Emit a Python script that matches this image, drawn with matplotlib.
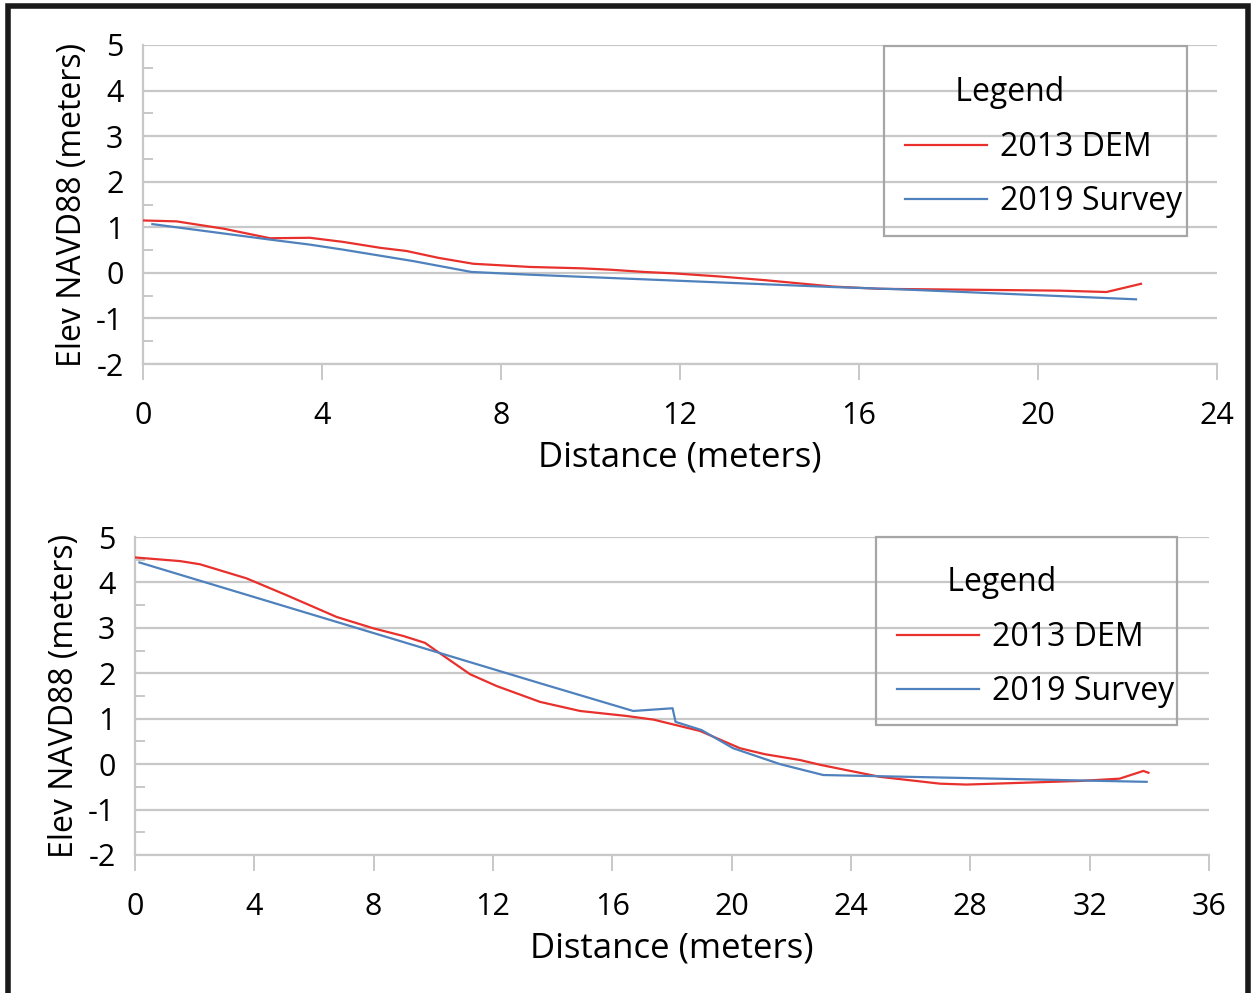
import matplotlib
matplotlib.use('Agg')
import matplotlib.pyplot as plt
from matplotlib.patches import Rectangle
from matplotlib.ticker import MultipleLocator

plt.rcParams['font.family'] = ['Open Sans', 'DejaVu Sans']
plt.rcParams['axes.unicode_minus'] = False

# top profile
top_dem_x = [0, 0.75, 1.8, 2.84, 3.73, 4.47, 5.3, 5.89, 6.6, 7.38, 8.65, 9.8, 10.44, 11.2,
             11.85, 12.9, 13.9, 15.42, 16.47, 18.5, 20.5, 21.53, 22.3]
top_dem_y = [1.15, 1.13, 0.97, 0.76, 0.77, 0.68, 0.55, 0.48, 0.33, 0.2, 0.13, 0.1, 0.07, 0.02,
             -0.01, -0.08, -0.16, -0.3, -0.35, -0.37, -0.39, -0.42, -0.24]
top_srv_x = [0.21, 2.84, 3.73, 4.47, 6.03, 7.34, 8.65, 15.4, 16.9, 22.19]
top_srv_y = [1.07, 0.73, 0.62, 0.51, 0.26, 0.02, -0.04, -0.31, -0.36, -0.58]

# bottom profile
bot_dem_x = [0, 1.51, 2.18, 3.74, 5.08, 6.76, 7.99, 9.0, 9.72, 10.22, 11.23, 12.12, 13.58,
             14.92, 16.48, 17.38, 18.94, 20.28, 21.1, 22.29, 23.0, 24.97, 26.98, 27.87,
             31.68, 33.0, 33.8, 33.97]
bot_dem_y = [4.55, 4.47, 4.40, 4.09, 3.72, 3.24, 2.99, 2.82, 2.67, 2.44, 1.98, 1.72, 1.37,
             1.17, 1.06, 0.98, 0.73, 0.35, 0.22, 0.09, -0.02, -0.28, -0.43, -0.45,
             -0.37, -0.32, -0.15, -0.19]
bot_srv_x = [0.15, 13.58, 16.7, 18.02, 18.12, 18.99, 20.05, 21.62, 23.07, 33.91]
bot_srv_y = [4.44, 1.78, 1.17, 1.23, 0.93, 0.75, 0.35, 0.0, -0.24, -0.39]

labels = ['2013 DEM', '2019 Survey']
red = '#e8302c'
blue = '#4f81bd'
grey = '#c8c8c8'
fs = 22

fig = plt.figure(figsize=(12.53, 9.93), dpi=100)
ax1 = fig.add_axes([0.1141, 0.6334, 0.8572, 0.3213])
ax2 = fig.add_axes([0.1077, 0.1390, 0.8572, 0.3202])


def style(ax, xmax, dem, srv, anchor, box):
    ax.plot(dem[0], dem[1], c=red, lw=1.6, label=labels[0], zorder=3)
    ax.plot(srv[0], srv[1], c=blue, lw=1.6, label=labels[1], zorder=3)
    ax.set_xlim(0, xmax)
    ax.set_ylim(-2, 5)
    ax.xaxis.set_major_locator(MultipleLocator(4))
    ax.yaxis.set_major_locator(MultipleLocator(1))
    ax.yaxis.set_minor_locator(MultipleLocator(0.5))
    ax.grid(axis='y', which='major', color=grey, lw=1.6, zorder=0)
    for s in ['top', 'right']:
        ax.spines[s].set_visible(False)
    for s in ['left', 'bottom']:
        ax.spines[s].set_color(grey)
        ax.spines[s].set_linewidth(1.6)
    ax.tick_params(axis='y', which='major', length=0, pad=14, labelsize=fs)
    ax.tick_params(axis='y', which='minor', direction='in', length=7, width=1.4, color=grey)
    ax.tick_params(axis='x', which='major', direction='out', length=11.5, width=1.4,
                   color=grey, pad=15, labelsize=fs)
    ax.set_xlabel('Distance (meters)', fontsize=fs + 3, labelpad=7)
    ax.set_ylabel('Elev NAVD88 (meters)', fontsize=fs + 1, labelpad=5)
    ax.legend(loc='upper left', bbox_to_anchor=anchor, fontsize=fs + 1,
              title='      Legend', title_fontsize=fs + 1, alignment='left',
              handlelength=2.57, handletextpad=0.41, labelspacing=0.67,
              borderpad=0, borderaxespad=0, frameon=False)
    # legend box (drawn separately, transparent like the original)
    ax.add_patch(Rectangle((box[0], box[1]), box[2] - box[0], box[3] - box[1],
                           transform=ax.transAxes, fill=False, edgecolor='#a6a6a6',
                           lw=1.6, zorder=4, clip_on=False))


style(ax1, 24, (top_dem_x, top_dem_y), (top_srv_x, top_srv_y),
      (0.7095, 0.9016), (0.690, 0.401, 0.972, 0.997))
style(ax2, 36, (bot_dem_x, bot_dem_y), (bot_srv_x, bot_srv_y),
      (0.7095, 0.9075), (0.690, 0.409, 0.970, 1.0))

# black frame round the whole picture
fig.patches.append(Rectangle((0.006, -0.01), 0.99, 1.004, transform=fig.transFigure,
                             fill=False, edgecolor='#1a1a1a', lw=4))

fig.savefig('out.png', dpi=100)
